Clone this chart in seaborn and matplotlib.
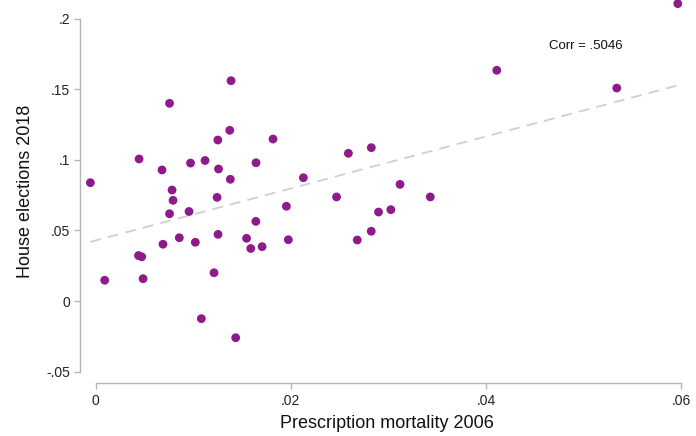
import numpy as np
import pandas as pd
import matplotlib
matplotlib.use("Agg")
import matplotlib.pyplot as plt
import seaborn as sns

# Prescription mortality (2006) vs. House election swing (2018), one point per state
mortality_2006 = [
    -0.00053, 0.00094, 0.00440, 0.00473, 0.00487, 0.00446, 0.00681, 0.00691,
    0.00758, 0.00758, 0.00784, 0.00794, 0.00858, 0.00958, 0.00973, 0.01022,
    0.01084, 0.01122, 0.01214, 0.01245, 0.01253, 0.01255, 0.01260, 0.01375,
    0.01381, 0.01388, 0.01436, 0.01547, 0.01590, 0.01644, 0.01642, 0.01706,
    0.01818, 0.01955, 0.01975, 0.02129, 0.02469, 0.02590, 0.02681, 0.02824,
    0.02825, 0.02899, 0.03025, 0.03119, 0.03429, 0.04110, 0.05339, 0.05964,
]
house_2018 = [
    0.0838, 0.0147, 0.0322, 0.0313, 0.0158, 0.1006, 0.0928, 0.0402,
    0.1400, 0.0618, 0.0786, 0.0713, 0.0448, 0.0634, 0.0977, 0.0416,
    -0.0125, 0.0995, 0.0200, 0.0734, 0.1140, 0.0472, 0.0935, 0.1209,
    0.0862, 0.1560, -0.0260, 0.0444, 0.0372, 0.0979, 0.0564, 0.0385,
    0.1147, 0.0671, 0.0434, 0.0873, 0.0737, 0.1046, 0.0432, 0.0494,
    0.1086, 0.0630, 0.0647, 0.0826, 0.0737, 0.1634, 0.1508, 0.2106,
]
corr_label = "Corr = .5046"

x_ticks = [0, 0.02, 0.04, 0.06]
x_tick_labels = ["0", ".02", ".04", ".06"]
y_ticks = [-0.05, 0, 0.05, 0.1, 0.15, 0.2]
y_tick_labels = ["-.05", "0", ".05", ".1", ".15", ".2"]

df = pd.DataFrame({"mortality": mortality_2006, "house": house_2018})

sns.set_theme(style="white")
plt.rcParams["font.family"] = ["Liberation Sans", "DejaVu Sans"]

fig = plt.figure(figsize=(6.96, 4.36), dpi=100)
ax = fig.add_axes([80 / 696, 53 / 436, 613 / 696, 383 / 436])

point_color = "#8e1a8c"
line_color = "#cfcfcf"

# Linear fit drawn across the observed range
sns.regplot(data=df, x="mortality", y="house", ax=ax, scatter=False, ci=None,
            truncate=True,
            line_kws=dict(color=line_color, lw=1.3, dashes=(6, 4), zorder=1))
sns.scatterplot(data=df, x="mortality", y="house", ax=ax, s=40,
                color=point_color, edgecolor="none", linewidth=0,
                zorder=3, clip_on=False)

ax.set_xlim(-0.00159, 0.0612)
ax.set_ylim(-0.05807, 0.21317)

ax.set_xticks(x_ticks)
ax.set_xticklabels(x_tick_labels)
ax.set_yticks(y_ticks)
ax.set_yticklabels(y_tick_labels)

for side in ("top", "right"):
    ax.spines[side].set_visible(False)
spine_color = "#b4b4b4"
ax.spines["left"].set_bounds(-0.05, 0.2)
ax.spines["bottom"].set_bounds(0, 0.06)
for side in ("left", "bottom"):
    ax.spines[side].set_color(spine_color)
    ax.spines[side].set_linewidth(1.0)

ax.tick_params(axis="both", which="major", direction="out", length=4,
               width=1.0, color=spine_color, labelsize=10, labelcolor="#222222",
               left=True, bottom=True)
ax.tick_params(axis="y", pad=3)
ax.tick_params(axis="x", pad=4)

ax.set_xlabel("Prescription mortality 2006", fontsize=13, color="#111111",
              labelpad=5)
ax.set_ylabel("House elections 2018", fontsize=13, color="#111111",
              labelpad=9)

ax.text(0.05017, 0.1807, corr_label, fontsize=9.5, color="#111111",
        ha="center", va="center")

ax.grid(False)
fig.savefig("out.png", dpi=100)
